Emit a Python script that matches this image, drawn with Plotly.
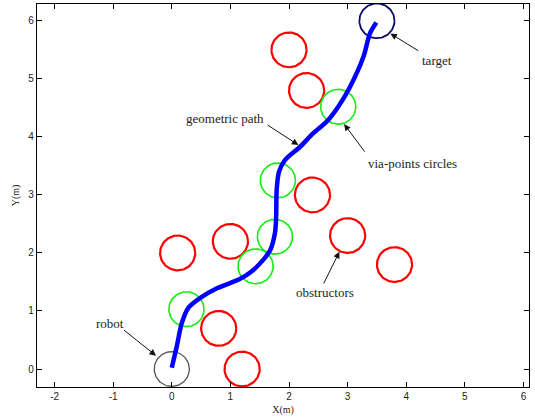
import numpy as np
import plotly.graph_objects as go

# Obstacle (obstructor) circles: centres in metres
obs_x = [2.0, 2.3, 2.4, 3.0, 3.8, 0.1, 1.0, 0.8, 1.2]
obs_y = [5.5, 4.8, 3.0, 2.3, 1.8, 2.0, 2.2, 0.7, 0.0]

# Via-point circles along the path
via_x = [0.25, 1.43, 1.76, 1.81, 2.84]
via_y = [1.03, 1.77, 2.28, 3.25, 4.52]

robot_xy = (0.0, 0.0)
target_xy = (3.5, 6.0)
radius = 0.3

# Geometric path from robot to target
path_x = [0.0, 0.085, 0.17, 0.28, 0.48, 0.77, 1.16, 1.36, 1.56, 1.68, 1.76, 1.78,
          1.79, 1.83, 1.93, 2.19, 2.41, 2.64, 2.84, 3.04, 3.27, 3.38, 3.49]
path_y = [0.02, 0.39, 0.79, 1.05, 1.22, 1.39, 1.55, 1.68, 1.88, 2.05, 2.34, 2.6,
          3.09, 3.40, 3.60, 3.83, 4.06, 4.26, 4.52, 4.86, 5.38, 5.78, 5.97]

x_ticks = [-2, -1, 0, 1, 2, 3, 4, 5, 6]
x_tick_text = ["-2", "-1", "0", "1", "2", "3", "4", "5", "6"]
y_ticks = [0, 1, 2, 3, 4, 5, 6]

theta = np.linspace(0, 2 * np.pi, 121)


def circle_trace(cx, cy, color, width):
    return go.Scatter(x=cx + radius * np.cos(theta), y=cy + radius * np.sin(theta),
                      mode="lines", line=dict(color=color, width=width),
                      hoverinfo="skip", showlegend=False)


fig = go.Figure()
for cx, cy in zip(obs_x, obs_y):
    fig.add_trace(circle_trace(cx, cy, "#ff0000", 2.2))
for cx, cy in zip(via_x, via_y):
    fig.add_trace(circle_trace(cx, cy, "#11ee11", 1.6))
fig.add_trace(circle_trace(*robot_xy, "#555555", 1.3))
fig.add_trace(circle_trace(*target_xy, "#0b0b6b", 1.8))

fig.add_trace(go.Scatter(x=path_x, y=path_y, mode="lines",
                         line=dict(color="#0000ff", width=4.5, shape="spline", smoothing=0.8),
                         showlegend=False))

# Labels with arrows: (text, text position, arrow tail, arrow head)
labels = [
    ("target", (4.52, 5.32), (4.23, 5.47), (3.73, 5.78)),
    ("via-points circles", (4.11, 3.55), (3.31, 3.72), (2.94, 4.22)),
    ("geometric path", (0.91, 4.32), (1.61, 4.22), (2.16, 3.86)),
    ("obstructors", (2.61, 1.32), (2.58, 1.45), (2.86, 2.02)),
    ("robot", (-1.06, 0.79), (-0.84, 0.69), (-0.27, 0.23)),
]
for text, (tx, ty), (ax, ay), (hx, hy) in labels:
    fig.add_annotation(x=tx, y=ty, text=text, showarrow=False,
                       font=dict(family="Liberation Serif", size=13, color="#222222"))
    fig.add_annotation(x=hx, y=hy, ax=ax, ay=ay, xref="x", yref="y", axref="x", ayref="y",
                       text="", showarrow=True, arrowhead=2, arrowsize=1.3,
                       arrowwidth=1, arrowcolor="#111111")

axis_common = dict(showgrid=False, zeroline=False, showline=True, linecolor="black",
                   linewidth=1.2, mirror="ticks", ticks="inside", ticklen=5,
                   tickcolor="black", tickfont=dict(family="Liberation Sans", size=10, color="#222222"))

fig.update_layout(
    width=535, height=418,
    margin=dict(l=37, r=6, t=4, b=31),
    plot_bgcolor="white", paper_bgcolor="white",
    xaxis=dict(range=[-2.3, 6.095], tickvals=x_ticks, ticktext=x_tick_text,
               title=dict(text="X(m)", standoff=4,
                          font=dict(family="Liberation Serif", size=10, color="#222222")),
               **axis_common),
    yaxis=dict(range=[-0.31, 6.29], tickvals=y_ticks,
               title=dict(text="Y(m)", standoff=6,
                          font=dict(family="Liberation Serif", size=10, color="#222222")),
               **axis_common),
)

fig.write_html("out.html")
